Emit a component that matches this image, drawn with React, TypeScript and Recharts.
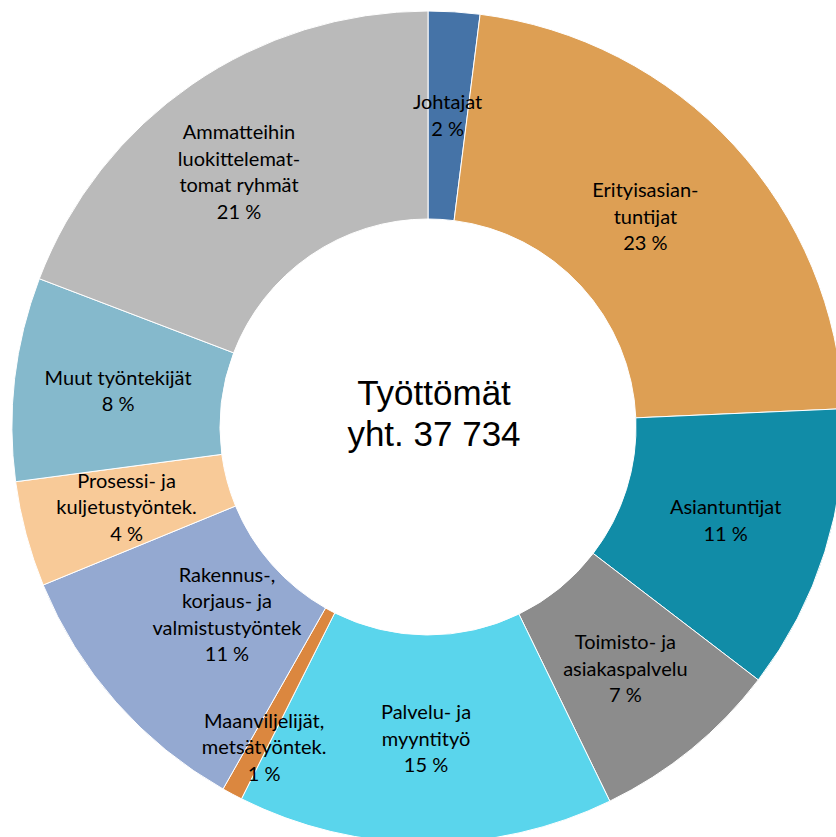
import { PieChart, Pie, Cell } from "recharts"

const categories = [
  "Johtajat",
  "Erityisasiantuntijat",
  "Asiantuntijat",
  "Toimisto- ja asiakaspalvelu",
  "Palvelu- ja myyntityö",
  "Maanviljelijät, metsätyöntek.",
  "Rakennus-, korjaus- ja valmistustyöntek",
  "Prosessi- ja kuljetustyöntek.",
  "Muut työntekijät",
  "Ammatteihin luokittelemattomat ryhmät",
]

// share of the ring
const shares = [2.0, 22.3, 11.1, 7.4, 14.6, 0.8, 10.6, 4.1, 7.9, 19.2]

const percentLabels = ["2 %", "23 %", "11 %", "7 %", "15 %", "1 %", "11 %", "4 %", "8 %", "21 %"]

const labelLines = [
  ["Johtajat"],
  ["Erityisasian-", "tuntijat"],
  ["Asiantuntijat"],
  ["Toimisto- ja", "asiakaspalvelu"],
  ["Palvelu- ja", "myyntityö"],
  ["Maanviljelijät,", "metsätyöntek."],
  ["Rakennus-,", "korjaus- ja", "valmistustyöntek"],
  ["Prosessi- ja", "kuljetustyöntek."],
  ["Muut työntekijät"],
  ["Ammatteihin", "luokittelemat-", "tomat ryhmät"],
]

const colors = [
  "#4573a7", "#dd9f54", "#118ca7", "#8c8c8c", "#5ad5ec",
  "#db873f", "#94a9d1", "#f8ca98", "#85b9cc", "#bababa",
]

const data = categories.map((name, i) => ({ name, value: shares[i] }))

// excel moved a few labels off the middle of the slice
const nudge: any = {
  1: [-12, 1],
  5: [-17, 45],
  6: [33, -19],
  9: [-12, 2],
}

const RAD = Math.PI / 180
const FONT = 20
const LINE = 26.5

function SliceLabel(props: any) {
  const { cx, cy, midAngle, innerRadius, outerRadius, index } = props
  const r = (innerRadius + outerRadius) / 2
  let x = cx + r * Math.cos(-midAngle * RAD)
  let y = cy + r * Math.sin(-midAngle * RAD)
  const n = nudge[index]
  if (n) {
    x += n[0]
    y += n[1]
  }
  const lines = [...labelLines[index], percentLabels[index]]
  const y0 = y - ((lines.length - 1) * LINE) / 2 + FONT * 0.35
  return (
    <text
      x={x}
      y={y0}
      textAnchor="middle"
      fill="#000"
      fontFamily="Lato, 'Open Sans', sans-serif"
      fontSize={FONT}
    >
      {lines.map((l, k) => (
        <tspan key={k} x={x} y={y0 + k * LINE}>
          {l}
        </tspan>
      ))}
    </text>
  )
}

export default function App() {
  return (
    <div style={{ position: "absolute", left: 0, top: 0, width: 836, height: 837, overflow: "hidden", background: "#fff" }}>
      <PieChart width={836} height={837} margin={{ top: 0, right: 0, bottom: 0, left: 0 }}>
        <Pie
          data={data}
          dataKey="value"
          nameKey="name"
          cx={428}
          cy={427}
          innerRadius={208}
          outerRadius={416}
          startAngle={90}
          endAngle={-270}
          stroke="#fff"
          strokeWidth={1}
          label={SliceLabel}
          labelLine={false}
          isAnimationActive={false}
        >
          {data.map((d, i) => (
            <Cell key={d.name} fill={colors[i]} />
          ))}
        </Pie>
      </PieChart>
      <svg width={836} height={837} style={{ position: "absolute", left: 0, top: 0, pointerEvents: "none" }}>
        <text x={434} y={405} textAnchor="middle" fontFamily="'Liberation Sans', Arial, sans-serif" fontSize={35} fill="#000">
          Työttömät
        </text>
        <text x={434} y={446} textAnchor="middle" fontFamily="'Liberation Sans', Arial, sans-serif" fontSize={35} fill="#000">
          yht. 37 734
        </text>
      </svg>
    </div>
  )
}
